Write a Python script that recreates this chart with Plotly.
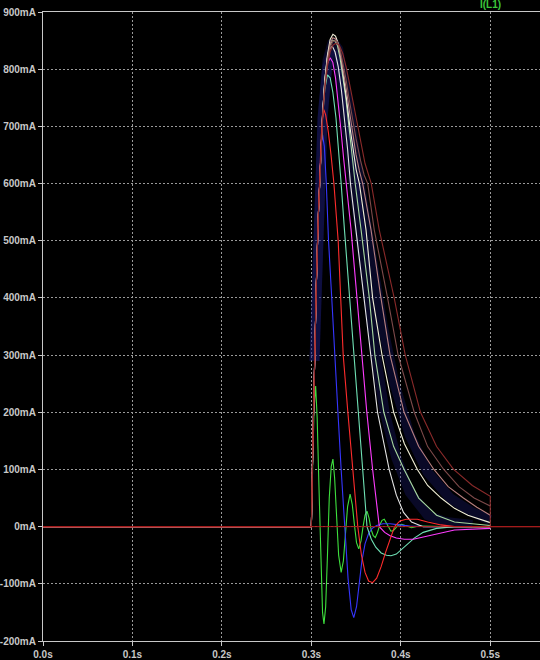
import plotly.graph_objects as go

# ---- data ----
x_tick_vals = [0.0, 0.1, 0.2, 0.3, 0.4, 0.5]
x_tick_text = ["0.0s", "0.1s", "0.2s", "0.3s", "0.4s", "0.5s"]
y_tick_vals = [-200, -100, 0, 100, 200, 300, 400, 500, 600, 700, 800, 900]
y_tick_text = ["-200mA", "-100mA", "0mA", "100mA", "200mA", "300mA", "400mA",
               "500mA", "600mA", "700mA", "800mA", "900mA"]

t_green = [0, .300, .3015, .3030, .3048, .3065, .3085, .3105, .3125, .3141, .3160, .3180, .3200, .3222,
           .3241, .3260, .3280, .3305, .3333, .3358, .3380, .3405, .3433, .3458, .3480, .3505, .3530,
           .3555, .3578, .3600, .3622, .3645, .3668, .3692, .3715, .3740, .3765, .3790, .3815, .3840,
           .3865, .3890, .3915, .3945, .3975, .4010, .4060, .4120, .4200, .4350, .4500, .5000]
i_green = [0, 0, 110, 205, 246, 190, 70, -60, -150, -170, -140, -50, 50, 105,
           118, 85, 20, -50, -80, -60, -15, 35, 57, 38, 5, -28, -39,
           -25, 0, 20, 27, 15, -5, -16, -19, -10, 3, 11, 13, 6,
           -3, -8, -7, -2, 3, 4, 1, -2, 1, 0, 0, 0]

t_blue = [0, .300, .3015, .3035, .3055, .3078, .3095, .3110, .3125, .3145, .3167, .3192, .3228, .3259,
          .3297, .3333, .3372, .3410, .3445, .3474, .3505, .3535, .3565, .3600, .3640, .3680, .3730,
          .3800, .3880, .3980, .4100, .4300, .5000]
i_blue = [0, 0, 130, 290, 420, 540, 620, 670, 685, 665, 600, 500, 400, 300,
          200, 100, 0, -90, -145, -159, -140, -100, -60, -30, -12, -3, 2,
          5, 5, 3, 1, 0, 0]

t_red = [0, .300, .3015, .3035, .3055, .3077, .3095, .3110, .3125, .3140, .3160, .3190, .3220, .3252,
         .3300, .3326, .3356, .3408, .3463, .3519, .3560, .3600, .3640, .3685, .3730, .3780, .3830,
         .3880, .3930, .3990, .4060, .4185, .4300, .4450, .4600, .5000]
i_red = [0, 0, 130, 290, 420, 540, 620, 680, 715, 729, 720, 690, 650, 600,
         500, 400, 300, 200, 100, 0, -50, -80, -95, -98, -90, -70, -45,
         -22, 0, 10, 13, 13, 8, 3, 0, 0]

t_pale = [0, .300, .3015, .3035, .3055, .3077, .3100, .3125, .3150, .3180, .3210, .3240, .3275, .3305,
          .3333, .3370, .3426, .3472, .3519, .3574, .3622, .3670, .3720, .3780, .3840, .3890, .3950,
          .4010, .4080, .4150, .4250, .4400, .4600, .5000]
i_pale = [0, 0, 130, 290, 420, 540, 640, 715, 765, 790, 785, 760, 715, 660,
          600, 519, 400, 300, 200, 100, 0, -22, -36, -46, -50, -51, -48,
          -40, -30, -20, -10, -3, 0, 0]

t_magenta = [0, .300, .3015, .3035, .3055, .3077, .3100, .3125, .3150, .3180, .3210, .3240, .3270, .3300,
             .3330, .3360, .3389, .3444, .3510, .3565, .3620, .3685, .3760, .3820, .3880, .3950, .4040,
             .4140, .4250, .4400, .4600, .5000]
i_magenta = [0, 0, 130, 290, 420, 540, 640, 720, 775, 810, 820, 812, 785, 745,
             695, 645, 600, 519, 400, 300, 200, 100, 0, -10, -16, -20, -22,
             -22, -18, -12, -6, -3]

t_white = [0, .300, .3015, .3035, .3055, .3077, .3100, .3125, .3150, .3180, .3210, .3235, .3265, .3300,
           .3335, .3370, .3405, .3437, .3500, .3593, .3667, .3740, .3870, .3950, .4030, .4120, .4250,
           .4450, .5000]
i_white = [0, 0, 130, 290, 420, 540, 640, 720, 780, 820, 837, 840, 830, 805,
           765, 715, 660, 600, 519, 400, 300, 200, 100, 55, 25, 8, 0,
           0, 0]

t_gray = [0, .300, .3015, .3035, .3055, .3077, .3100, .3125, .3150, .3180, .3210, .3240, .3260, .3290,
          .3320, .3350, .3385, .3420, .3455, .3490, .3556, .3648, .3710, .3810, .3920, .4037, .4200,
          .4400, .4600, .5000]
i_gray = [0, 0, 130, 290, 420, 540, 640, 720, 780, 822, 843, 850, 850, 842,
          820, 790, 750, 700, 650, 600, 519, 400, 300, 200, 140, 100, 50,
          20, 8, 2]

t_cream = [0, .300, .3015, .3035, .3055, .3077, .3100, .3125, .3150, .3180, .3210, .3241, .3270, .3300,
           .3330, .3360, .3395, .3430, .3465, .3500, .3537, .3611, .3685, .3790, .3920, .4040, .4185,
           .4300, .4450, .4600, .4750, .5000]
i_cream = [0, 0, 130, 290, 420, 540, 640, 720, 780, 825, 852, 861, 858, 845,
           820, 787, 745, 700, 660, 625, 600, 519, 400, 300, 200, 145, 100,
           72, 50, 32, 20, 7]

t_rose = [0, .300, .3015, .3035, .3055, .3077, .3100, .3125, .3150, .3180, .3210, .3240, .3270, .3300,
          .3330, .3360, .3395, .3430, .3465, .3500, .3537, .3574, .3667, .3778, .3880, .4037, .4200,
          .4370, .4530, .4700, .4850, .5000]
i_rose = [0, 0, 130, 290, 420, 540, 640, 718, 775, 818, 845, 855, 853, 842,
          822, 795, 760, 722, 685, 650, 622, 600, 519, 400, 300, 200, 140,
          100, 70, 50, 34, 20]

t_brown = [0, .300, .3015, .3035, .3055, .3077, .3100, .3125, .3150, .3180, .3210, .3240, .3270, .3290,
           .3320, .3350, .3385, .3420, .3460, .3500, .3550, .3590, .3630, .3703, .3852, .3970, .4150,
           .4300, .4480, .4650, .4820, .5000]
i_brown = [0, 0, 130, 290, 420, 540, 638, 715, 770, 812, 838, 849, 850, 848,
           836, 815, 785, 750, 712, 678, 640, 615, 600, 519, 400, 300, 200,
           140, 100, 70, 50, 36]

t_dark = [0, .300, .3015, .3035, .3055, .3077, .3100, .3125, .3150, .3180, .3210, .3240, .3270, .3310,
          .3350, .3390, .3430, .3470, .3510, .3550, .3600, .3670, .3759, .3926, .4050, .4220, .4400,
          .4590, .4800, .5000, .5000, .5556]
i_dark = [0, 0, 130, 290, 420, 540, 635, 710, 765, 805, 830, 842, 845, 843,
          828, 803, 772, 740, 705, 670, 635, 600, 519, 400, 300, 200, 140,
          100, 72, 53, 0, 0]

# faint navy traces (the dark-blue haze between curves)
t_navy1 = [.3035, .3077, .3125, .3180, .3240, .3300, .3360, .3420, .3480, .3550, .3630, .3720,
           .3820, .3950, .4100, .4300, .4500, .4800]
i_navy1 = [290, 540, 715, 805, 830, 805, 745, 670, 590, 500, 400, 300,
           200, 120, 60, 20, 8, 3]
t_navy2 = [.3035, .3077, .3125, .3180, .3240, .3300, .3360, .3430, .3500, .3580, .3680, .3800,
           .3930, .4100, .4300, .4550, .4800, .5000]
i_navy2 = [290, 540, 715, 815, 848, 835, 790, 720, 640, 560, 460, 350,
           250, 160, 95, 50, 25, 12]

series = [
    ("navy1", t_navy1, i_navy1, "rgba(28,28,120,0.32)", 10),
    ("navy2", t_navy2, i_navy2, "rgba(28,28,120,0.32)", 10),
    ("green", t_green, i_green, "#3ee03e", 1.1),
    ("blue", t_blue, i_blue, "#3636ff", 1.1),
    ("pale", t_pale, i_pale, "#6fe0b4", 1.1),
    ("magenta", t_magenta, i_magenta, "#ff3cff", 1.1),
    ("white", t_white, i_white, "#e4e4e4", 1.1),
    ("gray", t_gray, i_gray, "#a8d8a0", 1.1),
    ("cream", t_cream, i_cream, "#f2f0d8", 1.1),
    ("rose", t_rose, i_rose, "#b88080", 1.1),
    ("brown", t_brown, i_brown, "#7e4a4a", 1.1),
    ("red", t_red, i_red, "#ff2c2c", 1.1),
    ("dark", t_dark, i_dark, "#8a2a2a", 1.1),
]

fig = go.Figure()
for name, tx, iy, col, w in series:
    fig.add_trace(go.Scatter(x=tx, y=iy, mode="lines", name=name,
                             line=dict(color=col, width=w, shape="linear"),
                             hoverinfo="skip"))

# red zero line across the whole plot
fig.add_shape(type="line", xref="paper", yref="y", x0=0, x1=1, y0=0, y1=0,
              line=dict(color="#a81818", width=1))

axis_col = "#c8c8c8"
font_tick = dict(family="Liberation Sans, Arial, sans-serif", size=10, color="#c8c8c8", weight="bold")

fig.update_layout(
    width=540, height=660,
    margin=dict(l=40, r=0, t=12, b=18),
    paper_bgcolor="black", plot_bgcolor="black",
    showlegend=False,
    xaxis=dict(range=[0, 0.5556], tickvals=x_tick_vals, ticktext=x_tick_text,
               showgrid=True, gridcolor="#9a9a9a", griddash="2px,2px", gridwidth=1,
               showline=True, linecolor=axis_col, linewidth=1, mirror=True,
               ticks="outside", ticklen=4, tickcolor=axis_col, tickfont=font_tick,
               zeroline=False, fixedrange=True),
    yaxis=dict(range=[-200, 900], tickvals=y_tick_vals, ticktext=y_tick_text,
               showgrid=True, gridcolor="#9a9a9a", griddash="2px,2px", gridwidth=1,
               showline=True, linecolor=axis_col, linewidth=1, mirror=False,
               ticks="outside", ticklen=4, tickcolor=axis_col, tickfont=font_tick,
               zeroline=False, fixedrange=True),
    annotations=[dict(text="I(L1)", x=0.5, xref="x", y=1 + 8 / 630, yref="paper",
                      xanchor="center", yanchor="middle", showarrow=False,
                      font=dict(family="Liberation Sans, Arial, sans-serif", size=10,
                                color="#3cc83c", weight="bold"))],
)

fig.write_html("out.html", config={"displayModeBar": False},
               post_script="document.body.style.margin='0';document.body.style.overflow='hidden';")
